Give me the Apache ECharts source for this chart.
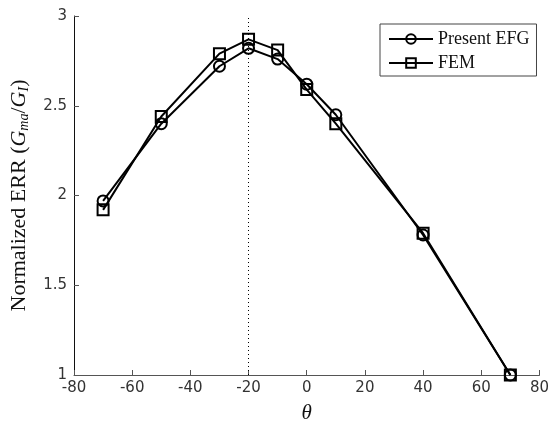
<!DOCTYPE html>
<html style="height: 100%">
    <head>
        <meta charset="utf-8">
    </head>
    <body style="height: 100%; margin: 0; background: #fff">
        <div id="container" style="width: 552px; height: 429px"></div>
        <script type="text/javascript" src="https://cdn.jsdelivr.net/npm/echarts@6/dist/echarts.min.js"></script>
    </body>
</html>
<script type="text/javascript">
    // theta (deg) and normalized ERR values
    var theta = [-70, -50, -30, -20, -10, 0, 10, 40, 70];
    var efg = [1.97, 2.40, 2.72, 2.82, 2.76, 2.62, 2.45, 1.78, 1.00];
    var fem = [1.92, 2.44, 2.79, 2.87, 2.81, 2.59, 2.40, 1.79, 1.00];
    var xTicks = [-80, -60, -40, -20, 0, 20, 40, 60, 80];
    var yTicks = [1, 1.5, 2, 2.5, 3];
    var peakTheta = -20;

    function pairs(xs, ys) {
        return xs.map(function (x, i) { return [x, ys[i]]; });
    }

    var dom = document.getElementById("container");
    var myChart = echarts.init(dom);
    var option;

    option = {
      backgroundColor: '#fff',
      animation: false,
      grid: {
        left: 73,
        right: 10,
        top: 16,
        bottom: 46
      },
      legend: {
        orient: 'vertical',
        left: 380,
        top: 24,
        padding: [6, 7, 4, 8],
        itemWidth: 44,
        itemHeight: 12,
        itemGap: 6,
        borderColor: '#444',
        borderWidth: 1,
        backgroundColor: '#fff',
        textStyle: {
          fontFamily: 'Liberation Serif',
          fontSize: 18,
          color: '#111'
        },
        data: ['Present EFG', 'FEM']
      },
      xAxis: {
        type: 'value',
        min: xTicks[0],
        max: xTicks[xTicks.length - 1],
        interval: 20,
        name: 'θ',
        nameLocation: 'middle',
        nameGap: 28,
        nameTextStyle: {
          fontFamily: 'Liberation Serif',
          fontStyle: 'italic',
          fontSize: 21,
          color: '#111'
        },
        splitLine: { show: false },
        axisLine: { onZero: false, lineStyle: { color: '#555', width: 1 } },
        axisTick: { inside: true, length: 5, lineStyle: { color: '#555' } },
        axisLabel: {
          margin: 6,
          fontFamily: 'DejaVu Sans',
          fontSize: 15,
          color: '#333'
        }
      },
      yAxis: {
        type: 'value',
        position: 'left',
        min: yTicks[0],
        max: yTicks[yTicks.length - 1],
        interval: 0.5,
        name: '{n|Normalized ERR (}{g|G}{s|ma}{n|/}{g|G}{s|I}{n|)}',
        nameLocation: 'middle',
        nameGap: 43,
        nameRotate: 90,
        nameTextStyle: {
          fontFamily: 'Liberation Serif',
          fontSize: 22,
          color: '#111',
          rich: {
            n: { fontFamily: 'Liberation Serif', fontSize: 22, color: '#111' },
            g: { fontFamily: 'Liberation Serif', fontStyle: 'italic', fontSize: 22, color: '#111' },
            s: { fontFamily: 'Liberation Serif', fontStyle: 'italic', fontSize: 14, color: '#111', verticalAlign: 'bottom', padding: [10, 0, 0, 0] }
          }
        },
        splitLine: { show: false },
        axisLine: { show: true, onZero: false, lineStyle: { color: '#111', width: 1 } },
        axisTick: { show: true, inside: true, length: 5, lineStyle: { color: '#555' } },
        axisLabel: {
          margin: 7,
          fontFamily: 'DejaVu Sans',
          fontSize: 15,
          color: '#333'
        }
      },
      series: [
        {
          name: 'Present EFG',
          type: 'line',
          data: pairs(theta, efg),
          symbol: 'circle',
          symbolSize: 11,
          showAllSymbol: true,
          lineStyle: { color: '#000', width: 2 },
          itemStyle: { color: 'rgba(0,0,0,0)', borderColor: '#000', borderWidth: 2 },
          markLine: {
            silent: true,
            symbol: ['none', 'none'],
            label: { show: false },
            lineStyle: { color: '#000', type: [1, 3], width: 1 },
            data: [{ xAxis: peakTheta }]
          }
        },
        {
          name: 'FEM',
          type: 'line',
          data: pairs(theta, fem),
          symbol: 'rect',
          symbolSize: 11,
          showAllSymbol: true,
          lineStyle: { color: '#000', width: 2 },
          itemStyle: { color: 'rgba(0,0,0,0)', borderColor: '#000', borderWidth: 2 }
        }
      ]
    };

    if (option && typeof option === 'object') {
        myChart.setOption(option);
    }
</script>
